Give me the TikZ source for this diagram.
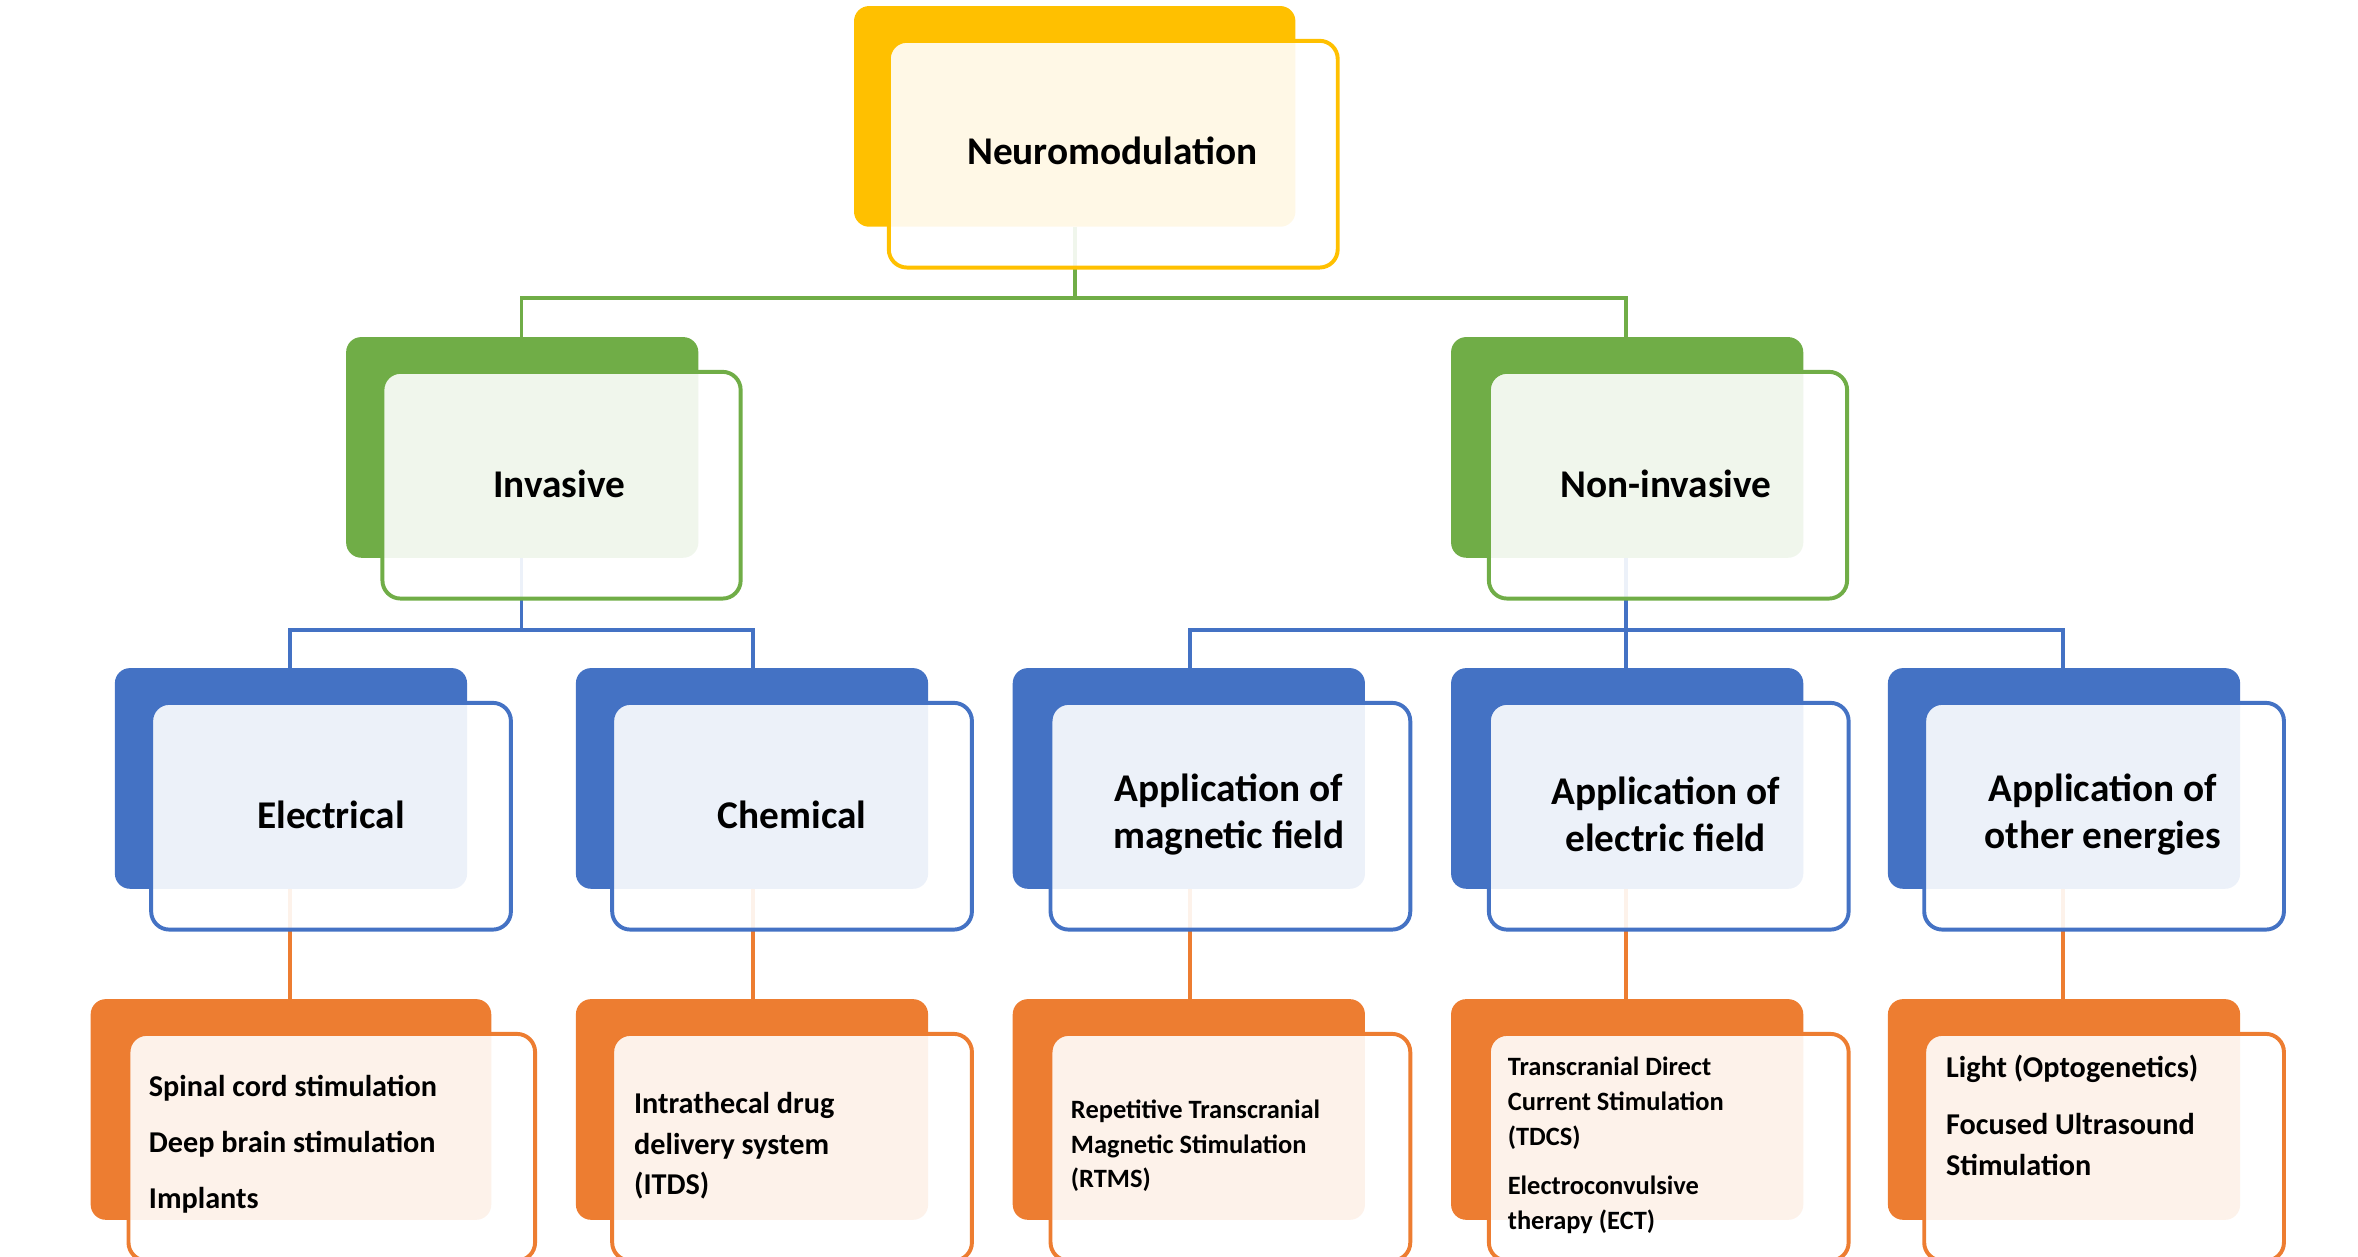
\documentclass[tikz,border=0pt]{standalone}
\usepackage{fontspec}
\setmainfont{Carlito}
\definecolor{cy}{HTML}{FFC000}
\definecolor{cg}{HTML}{70AD47}
\definecolor{cb}{HTML}{4472C4}
\definecolor{co}{HTML}{ED7D31}
\begin{document}
\begin{tikzpicture}[x=1pt,y=-1pt,
  back/.style={fill=#1,rounded corners=10pt},
  front/.style={draw=#1,line width=2.6pt,fill=white,fill opacity=0.9,rounded corners=12pt},
  conn/.style={draw=#1,line width=2.6pt},
  big/.style={font=\bfseries\fontsize{26}{31}\selectfont,align=center},
  leaf/.style={font=\bfseries\fontsize{20}{27}\selectfont,align=left,anchor=west},
  small/.style={font=\bfseries\fontsize{17.5}{23}\selectfont,align=left,anchor=west}]
\useasboundingbox (0,0) rectangle (1560,831.6);
% connectors
\coordinate (g0) at (711,150); \coordinate (g1) at (345,223); \coordinate (g2) at (1076,223);
\draw[conn=cg] (g0) -- (711,197) -| (g1); \draw[conn=cg] (711,197) -| (g2);
\coordinate (b0) at (345,369); \coordinate (b1) at (192,442); \coordinate (b2) at (498,442);
\draw[conn=cb] (b0) -- (345,417) -| (b1); \draw[conn=cb] (345,417) -| (b2);
\coordinate (n0) at (1076,369); \coordinate (n1) at (787,442); \coordinate (n2) at (1076,442); \coordinate (n3) at (1365,442);
\draw[conn=cb] (n0) -- (1076,417) -| (n1); \draw[conn=cb] (1076,417) -| (n3); \draw[conn=cb] (1076,417) -- (n2);
\foreach \x/\i in {192/1,498/2,787/3,1076/4,1365/5}{
  \coordinate (o\i a) at (\x,588); \coordinate (o\i b) at (\x,661);
  \draw[conn=co] (o\i a) -- (o\i b);}
% boxes
\fill[back=cy] (565,4) rectangle (857,150);
\path[front=cy] (588,27) rectangle (885,177);
\node[big] (neuro) at (736,100) {Neuromodulation};
\fill[back=cg] (229,223) rectangle (462,369);
\path[front=cg] (253,246) rectangle (490,396);
\node[big] (inv) at (370,320) {Invasive};
\fill[back=cg] (960,223) rectangle (1193,369);
\path[front=cg] (985,246) rectangle (1222,396);
\node[big] (ninv) at (1102,320) {Non-invasive};
\foreach \bx/\fx in {76/100,381/405,670/695,960/985,1249/1273}{
  \fill[back=cb] (\bx,442) rectangle (\bx+233,588);
  \path[front=cb] (\fx,465) rectangle (\fx+238,615);}
\node[big] (el) at (219,539) {Electrical};
\node[big] (ch) at (524,539) {Chemical};
\node[big] (mag) at (813,539) {Application of\\magnetic field};
\node[big] (elf) at (1102,539) {Application of\\electric field};
\node[big] (oth) at (1391,539) {Application of\\other energies};
\fill[back=co] (60,661) rectangle (325,807);
\path[front=co] (85,684) rectangle (354,834);
\foreach \bx/\fx in {381/405,670/695,960/985,1249/1273}{
  \fill[back=co] (\bx,661) rectangle (\bx+233,807);
  \path[front=co] (\fx,684) rectangle (\fx+238,834);}
\node[leaf,font=\bfseries\fontsize{20}{37}\selectfont] (l1) at (95,757) {Spinal cord stimulation\\Deep brain stimulation\\Implants};
\node[leaf] (l2) at (416,758) {Intrathecal drug\\delivery system\\(ITDS)};
\node[small] (l3) at (705,758) {Repetitive Transcranial\\Magnetic Stimulation\\(RTMS)};
\node[small] (l4a) at (994,730) {Transcranial Direct\\Current Stimulation\\(TDCS)};
\node[small] (l4b) at (994,797) {Electroconvulsive\\therapy (ECT)};
\node[leaf] (l5a) at (1284,707) {Light (Optogenetics)};
\node[leaf] (l5b) at (1284,757) {Focused Ultrasound\\Stimulation};
\end{tikzpicture}
\end{document}
